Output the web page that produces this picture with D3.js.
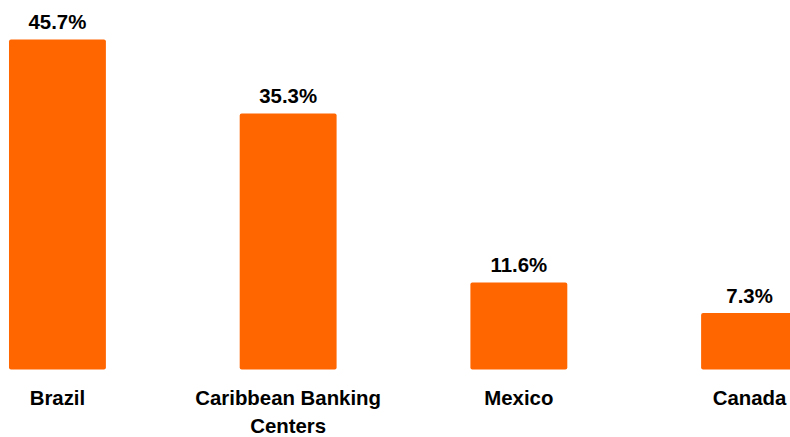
<!DOCTYPE html>
<html>
<head>
<meta charset="utf-8">
<script src="https://cdn.jsdelivr.net/npm/d3@7"></script>
<style>
  html, body { margin: 0; padding: 0; background: #fff; overflow: hidden; }
  svg { display: block; }
</style>
</head>
<body>
<svg id="chart" width="790" height="437"></svg>
<script>
// Share by region (%)
const categories = ["Brazil", "Caribbean Banking Centers", "Mexico", "Canada"];
const labelLines = [["Brazil"], ["Caribbean Banking", "Centers"], ["Mexico"], ["Canada"]];
const values = [45.7, 35.3, 11.6, 7.3];

const svg = d3.select("#chart");
const barColor = "#ff6600";
const font = "'Liberation Sans', Arial, Helvetica, sans-serif";

const x = d3.scaleBand()
  .domain(categories)
  .range([0, 807])
  .paddingInner(0.58)
  .paddingOuter(0.039);

const y = d3.scaleLinear()
  .domain([0, 45.7])
  .range([365, 39.5]);

const baseY = y(0) + 4.5;

const g = svg.append("g");

g.selectAll("rect.bar")
  .data(values)
  .join("rect")
  .attr("class", "bar")
  .attr("x", (d, i) => x(categories[i]))
  .attr("y", d => y(d))
  .attr("width", x.bandwidth())
  .attr("height", d => baseY - y(d))
  .attr("rx", 2)
  .attr("fill", barColor);

g.selectAll("text.value")
  .data(values)
  .join("text")
  .attr("class", "value")
  .attr("x", (d, i) => x(categories[i]) + x.bandwidth() / 2)
  .attr("y", d => y(d) - 10.5)
  .attr("text-anchor", "middle")
  .attr("font-family", font)
  .attr("font-weight", "bold")
  .attr("font-size", 20.4)
  .attr("fill", "#000")
  .text(d => d.toFixed(1) + "%");

const cat = g.selectAll("text.cat")
  .data(categories)
  .join("text")
  .attr("class", "cat")
  .attr("x", d => x(d) + x.bandwidth() / 2)
  .attr("y", 405)
  .attr("text-anchor", "middle")
  .attr("font-family", font)
  .attr("font-weight", "bold")
  .attr("font-size", 20.4)
  .attr("fill", "#000");

cat.selectAll("tspan")
  .data((d, i) => labelLines[i].map(t => ({ t, cx: x(d) + x.bandwidth() / 2 })))
  .join("tspan")
  .attr("x", d => d.cx)
  .attr("dy", (d, j) => j === 0 ? 0 : 27.5)
  .text(d => d.t);
</script>
</body>
</html>
